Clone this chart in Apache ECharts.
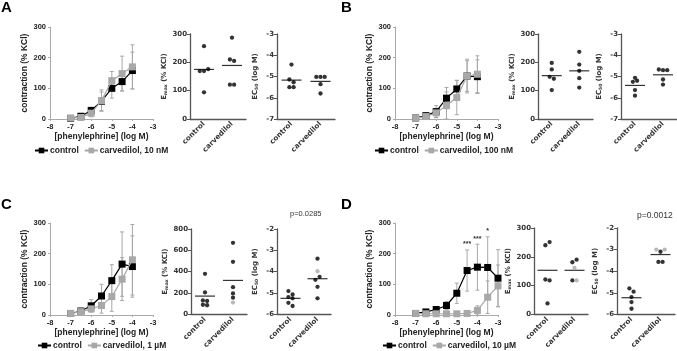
<!DOCTYPE html>
<html>
<head>
<meta charset="utf-8">
<script src="https://cdn.jsdelivr.net/npm/echarts@6/dist/echarts.min.js"></script>
<style>
  html, body { margin: 0; padding: 0; background: #fff; }
  #chart { width: 677px; height: 351px; }
</style>
</head>
<body>
<div id="chart"></div>
<script>
// phenylephrine concentrations (log M)
const doses = [-7, -6.5, -6, -5.5, -5, -4.5, -4];
const dosesD = [-7, -6.5, -6, -5.5, -5, -4.5, -4, -3.5, -3];

// contraction (% KCl), mean and SD per dose
const ctrlA = [2, 9, 28, 58, 100, 122, 158];
const ctrlA_sd = [2, 4, 10, 30, 32, 30, 60];
const carvA = [3, 5, 19, 60, 125, 148, 170];
const carvA_sd = [2, 4, 12, 35, 30, 57, 72];

const ctrlB = [3, 11, 24, 68, 98, 140, 138];
const ctrlB_sd = [2, 6, 20, 35, 28, 50, 55];
const carvB = [2, 8, 20, 44, 70, 140, 146];
const carvB_sd = [2, 6, 15, 44, 56, 55, 60];

const ctrlC = [5, 13, 30, 62, 112, 166, 158];
const ctrlC_sd = [3, 6, 20, 38, 52, 105, 100];
const carvC = [5, 11, 20, 31, 60, 117, 180];
const carvC_sd = [3, 5, 10, 25, 48, 70, 115];

const ctrlD = [5, 10, 18, 31, 71, 145, 156, 155, 120];
const ctrlD_sd = [3, 6, 10, 13, 33, 67, 75, 100, 93];
const carvD = [5, 4, 4, 4, 4, 5, 15, 58, 95];
const carvD_sd = [3, 2, 2, 2, 2, 3, 15, 53, 68];

const starDoses = [-4.5, -4, -3.5];
const starText = ['***', '***', '*'];

const carvLabels = ['carvedilol, 10 nM', 'carvedilol, 100 nM', 'carvedilol, 1 µM', 'carvedilol, 10 µM'];
const groups = ['control', 'carvedilol'];

// per-animal Emax (% KCl) and EC50 (log M); *_grey marks grey dots
const emaxA_ctrl = [257, 169, 169, 176, 94];
const emaxA_carv = [287, 210, 205, 121, 121];
const emaxA_mean = [175, 189];
const ec50A_ctrl = [-4.44, -5.14, -5.27, -5.5, -5.5];
const ec50A_carv = [-5.02, -5.02, -5.02, -5.36, -5.8];
const ec50A_mean = [-5.17, -5.23];

const emaxB_ctrl = [198, 175, 149, 142, 102];
const emaxB_carv = [237, 192, 170, 144, 111];
const emaxB_mean = [153, 170];
const ec50B_ctrl = [-5.06, -5.25, -5.2, -5.64, -5.9];
const ec50B_carv = [-4.67, -4.7, -4.7, -5.14, -5.38];
const ec50B_mean = [-5.42, -4.92];

const emaxC_ctrl = [380, 205, 130, 125, 90, 85];
const emaxC_carv = [670, 492, 255, 196, 156, 110];
const emaxC_carv_grey = [0, 0, 0, 0, 0, 1];
const emaxC_mean = [171, 318];
const ec50C_ctrl = [-4.91, -5.07, -5.19, -5.25, -5.46, -5.61];
const ec50C_carv = [-3.39, -3.98, -4.38, -4.24, -4.71, -5.25];
const ec50C_carv_grey = [0, 1, 0, 0, 0, 0];
const ec50C_mean = [-5.25, -4.33];

const emaxD_ctrl = [240, 251, 121, 118, 38];
const emaxD_carv = [181, 190, 161, 118, 118];
const emaxD_carv_grey = [0, 0, 1, 0, 1];
const emaxD_mean = [153, 153];
const ec50D_ctrl = [-4.8, -4.95, -5.2, -5.43, -5.74];
const ec50D_carv = [-3.0, -3.1, -3.0, -3.57, -3.57];
const ec50D_carv_grey = [1, 0, 1, 0, 0];
const ec50D_mean = [-5.23, -3.23];

const pTextC = 'p=0.0285';
const pTextD = 'p=0.0012';

const SANS = '"Liberation Sans", Arial, sans-serif';
const WIDE = '"DejaVu Sans", sans-serif';
const GREY = '#a8a8a8';

const grids = [], xAxes = [], yAxes = [], series = [], legends = [];

function addGrid(box) {
  grids.push(box);
  return grids.length - 1;
}

function errorBars(gi, xs, means, sds) {
  series.push({
    type: 'custom',
    xAxisIndex: gi, yAxisIndex: gi,
    z: 1,
    clip: false,
    data: xs.map((x, i) => [x, means[i], sds[i]]),
    renderItem: (params, api) => {
      const x = api.value(0), m = api.value(1), sd = api.value(2);
      const t = api.coord([x, m + sd]);
      const b = api.coord([x, m - sd]);
      const st = { stroke: GREY, lineWidth: 1 };
      return {
        type: 'group',
        children: [
          { type: 'line', shape: { x1: t[0], y1: t[1], x2: b[0], y2: b[1] }, style: st },
          { type: 'line', shape: { x1: t[0] - 2, y1: t[1], x2: t[0] + 2, y2: t[1] }, style: st },
          { type: 'line', shape: { x1: b[0] - 2, y1: b[1], x2: b[0] + 2, y2: b[1] }, style: st }
        ]
      };
    }
  });
}

function dosePanel(box, xs, ctrl, ctrlSd, carv, carvSd, carvName, legendPos) {
  const gi = addGrid(box);
  xAxes.push({
    type: 'value', gridIndex: gi, min: -8, max: -3, interval: 1,
    name: '[phenylephrine] (log M)', nameLocation: 'middle', nameGap: 13,
    nameTextStyle: { fontFamily: SANS, fontWeight: 'bold', fontSize: 8.5, color: '#222' },
    axisLine: { lineStyle: { color: '#aaa', width: 1 } },
    axisTick: { length: 2, lineStyle: { color: '#aaa' } },
    axisLabel: { fontFamily: SANS, fontWeight: 'bold', fontSize: 7.5, color: '#222', margin: 4 },
    splitLine: { show: false }
  });
  yAxes.push({
    type: 'value', gridIndex: gi, min: 0, max: 300, interval: 100,
    name: 'contraction (% KCl)', nameLocation: 'middle', nameGap: 20,
    nameTextStyle: { fontFamily: SANS, fontWeight: 'bold', fontSize: 8.5, color: '#222' },
    axisLine: { show: true, lineStyle: { color: '#aaa', width: 1 } },
    axisTick: { show: true, length: 2, lineStyle: { color: '#aaa' } },
    axisLabel: { fontFamily: SANS, fontWeight: 'bold', fontSize: 7.5, color: '#222', margin: 4 },
    splitLine: { show: false }
  });
  errorBars(gi, xs, ctrl, ctrlSd);
  errorBars(gi, xs, carv, carvSd);
  series.push({
    name: 'control', type: 'line', xAxisIndex: gi, yAxisIndex: gi, z: 3,
    data: xs.map((x, i) => [x, ctrl[i]]),
    symbol: 'rect', symbolSize: 7,
    lineStyle: { color: '#000', width: 1.2 },
    itemStyle: { color: '#000' }
  });
  series.push({
    name: carvName, type: 'line', xAxisIndex: gi, yAxisIndex: gi, z: 4,
    data: xs.map((x, i) => [x, carv[i]]),
    symbol: 'rect', symbolSize: 7,
    lineStyle: { color: GREY, width: 1.2 },
    itemStyle: { color: GREY }
  });
  legends.push({
    data: ['control', carvName],
    left: legendPos[0], top: legendPos[1],
    padding: 0, itemGap: 5, itemWidth: 13, itemHeight: 7,
    textStyle: { fontFamily: SANS, fontWeight: 'bold', fontSize: 8.5, color: '#222', padding: [0, 0, 0, -3] },
    selectedMode: false
  });
  return gi;
}

function spread(vals, thr) {
  const offs = new Array(vals.length).fill(0);
  let i = 0;
  while (i < vals.length) {
    let j = i + 1;
    while (j < vals.length && Math.abs(vals[j] - vals[i]) < thr) j++;
    const n = j - i;
    for (let k = i; k < j; k++) offs[k] = (k - i) - (n - 1) / 2;
    i = j;
  }
  return offs;
}

function dotPanel(box, ctrl, carv, carvGrey, means, yMin, yMax, yInt, nameRich, nameGap) {
  const gi = addGrid(box);
  xAxes.push({
    type: 'category', gridIndex: gi, data: groups,
    axisLine: { lineStyle: { color: '#555', width: 1.3 } },
    axisTick: { show: false },
    axisLabel: { rotate: 45, interval: 0, fontFamily: WIDE, fontWeight: 'bold', fontSize: 7.2, color: '#333', margin: 4 }
  });
  yAxes.push({
    type: 'value', gridIndex: gi, min: yMin, max: yMax, interval: yInt,
    name: nameRich, nameLocation: 'middle', nameGap: nameGap,
    nameTextStyle: {
      fontFamily: WIDE, fontWeight: 'bold', fontSize: 7, color: '#333',
      rich: {
        a: { fontFamily: WIDE, fontWeight: 'bold', fontSize: 7, color: '#333' },
        s: { fontFamily: WIDE, fontWeight: 'bold', fontSize: 4.5, color: '#333', verticalAlign: 'bottom', padding: [3, 0, 0, 0] }
      }
    },
    axisLine: { show: true, lineStyle: { color: '#555', width: 1.3 } },
    axisTick: { show: true, length: 3, lineStyle: { color: '#555' } },
    axisLabel: { fontFamily: WIDE, fontWeight: 'bold', fontSize: 7, color: '#333', margin: 3 },
    splitLine: { show: false }
  });
  const thr = (yMax - yMin) * 0.045;
  const cols = [ctrl, carv];
  cols.forEach((vals, c) => {
    const offs = spread(vals, thr);
    series.push({
      type: 'scatter', xAxisIndex: gi, yAxisIndex: gi, z: 3,
      symbol: 'circle', symbolSize: 4.3,
      data: vals.map((v, i) => ({
        value: [c, v],
        symbolOffset: [offs[i] * 4.2, 0],
        itemStyle: { color: (c === 1 && carvGrey && carvGrey[i]) ? GREY : '#000' }
      }))
    });
  });
  series.push({
    type: 'custom', xAxisIndex: gi, yAxisIndex: gi, z: 2,
    data: means.map((m, i) => [i, m]),
    renderItem: (params, api) => {
      const p = api.coord([api.value(0), api.value(1)]);
      return {
        type: 'line',
        shape: { x1: p[0] - 10, y1: p[1], x2: p[0] + 10, y2: p[1] },
        style: { stroke: '#333', lineWidth: 1.2 }
      };
    }
  });
  return gi;
}

const EMAX = '{a|E}{s|max}{a| (% KCl)}';
const EC50 = '{a|EC}{s|50}{a| (log M)}';

// row 1
dosePanel({ left: 50, top: 27, width: 103, height: 92 }, doses, ctrlA, ctrlA_sd, carvA, carvA_sd, carvLabels[0], [34, 146]);
dotPanel({ left: 190, top: 34, width: 56, height: 85 }, emaxA_ctrl, emaxA_carv, null, emaxA_mean, 0, 300, 100, EMAX, 21);
dotPanel({ left: 277, top: 34, width: 58, height: 85 }, ec50A_ctrl, ec50A_carv, null, ec50A_mean, -7, -3, 1, EC50, 18);
dosePanel({ left: 395, top: 27, width: 103, height: 92 }, doses, ctrlB, ctrlB_sd, carvB, carvB_sd, carvLabels[1], [374, 146]);
dotPanel({ left: 538, top: 34, width: 55, height: 85 }, emaxB_ctrl, emaxB_carv, null, emaxB_mean, 0, 300, 100, EMAX, 21);
dotPanel({ left: 621, top: 34, width: 56, height: 85 }, ec50B_ctrl, ec50B_carv, null, ec50B_mean, -7, -3, 1, EC50, 18);

// row 2
dosePanel({ left: 50, top: 223, width: 103, height: 92 }, doses, ctrlC, ctrlC_sd, carvC, carvC_sd, carvLabels[2], [37, 341]);
dotPanel({ left: 191, top: 229, width: 56, height: 86 }, emaxC_ctrl, emaxC_carv, emaxC_carv_grey, emaxC_mean, 0, 800, 200, EMAX, 21);
dotPanel({ left: 277, top: 229, width: 54, height: 86 }, ec50C_ctrl, ec50C_carv, ec50C_carv_grey, ec50C_mean, -6, -2, 1, EC50, 18);
const giD = dosePanel({ left: 395, top: 223, width: 103, height: 92 }, dosesD, ctrlD, ctrlD_sd, carvD, carvD_sd, carvLabels[3], [382, 341]);
dotPanel({ left: 534, top: 228, width: 54, height: 87 }, emaxD_ctrl, emaxD_carv, emaxD_carv_grey, emaxD_mean, 0, 300, 100, EMAX, 21);
dotPanel({ left: 617, top: 228, width: 58, height: 87 }, ec50D_ctrl, ec50D_carv, ec50D_carv_grey, ec50D_mean, -6, -2, 1, EC50, 18);

// significance marks above the control error bars in D
series.push({
  type: 'custom', xAxisIndex: giD, yAxisIndex: giD, z: 5, clip: false,
  data: starDoses.map((d, i) => {
    const k = dosesD.indexOf(d);
    return [d, ctrlD[k] + ctrlD_sd[k], starText[i]];
  }),
  renderItem: (params, api) => {
    const p = api.coord([api.value(0), api.value(1)]);
    return {
      type: 'text',
      x: p[0], y: p[1] - 2,
      style: {
        text: starText[params.dataIndex],
        fontFamily: SANS, fontSize: 7, fontWeight: 'bold', fill: '#333',
        align: 'center', verticalAlign: 'bottom'
      }
    };
  }
});

const letter = (t, x, y) => ({
  type: 'text', left: x, top: y,
  style: { text: t, fontFamily: SANS, fontWeight: 'bold', fontSize: 15, fill: '#000' }
});

const chart = echarts.init(document.getElementById('chart'), null, { renderer: 'canvas' });
chart.setOption({
  animation: false,
  backgroundColor: '#fff',
  grid: grids,
  xAxis: xAxes,
  yAxis: yAxes,
  legend: legends,
  series: series,
  graphic: [
    letter('A', 1, 0),
    letter('B', 341, 0),
    letter('C', 1, 197),
    letter('D', 341, 197),
    { type: 'text', left: 290, top: 210, style: { text: pTextC, fontFamily: SANS, fontSize: 7.5, fill: '#333' } },
    { type: 'text', left: 637, top: 211, style: { text: pTextD, fontFamily: SANS, fontSize: 8.5, fill: '#333' } }
  ]
});
</script>
</body>
</html>
